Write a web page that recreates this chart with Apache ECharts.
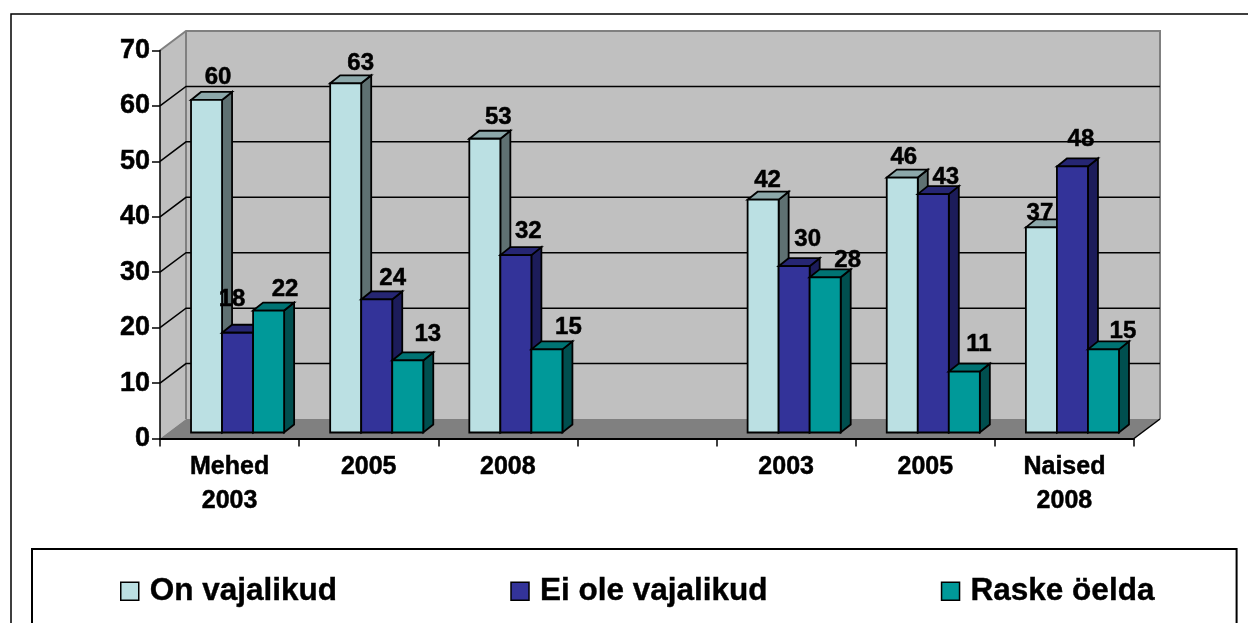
<!DOCTYPE html>
<html>
<head>
<meta charset="utf-8">
<style>html,body{margin:0;padding:0;background:#fff}#c{width:1248px;height:623px}</style>
<script src="https://cdn.jsdelivr.net/npm/echarts@6/dist/echarts.min.js"></script>
</head>
<body>
<div id="c"></div>
<script>
var categories = ['Mehed\n2003', '2005', '2008', '', '2003', '2005', 'Naised\n2008'];
var yTicks = [0, 10, 20, 30, 40, 50, 60, 70];
var onVajalikud = [60, 63, 53, null, 42, 46, 37];
var eiOleVajalikud = [18, 24, 32, null, 30, 43, 48];
var raskeOelda = [22, 13, 15, null, 28, 11, 15];
var seriesNames = ['On vajalikud', 'Ei ole vajalikud', 'Raske öelda'];

// Hand-placed data label nudges, relative to each bar's top centre
var nudgeOn = [[11.5,-24],[15,-21],[13.5,-23],null,[4.5,-21],[1.5,-22],[-1.5,-16]];
var nudgeEi = [[-5.5,-35],[16,-23],[12.5,-25],null,[13.5,-28.5],[12.5,-18.5],[8.5,-29]];
var nudgeRa = [[16.5,-23],[20,-28],[21.5,-23],null,[22.5,-18.6],[14.5,-29],[19.5,-19]];

var FONT = '"Liberation Sans", Arial, sans-serif';
var faces = [
  {front:'#BBE0E3', side:'#5F7172', top:'#8CA8AA'},
  {front:'#333399', side:'#1C1C5A', top:'#262673'},
  {front:'#009999', side:'#004F4F', top:'#007373'}
];
var WALL = {dx:26, dy:-19.5};
var DEPTH = {dx:10, dy:-8};
var FRONT = {dx:0, dy:-6};

function poly(pts, fill, stroke, lw){
  return {type:'polygon', shape:{points:pts},
    style:{fill:fill, stroke:stroke||null, lineWidth:lw||0}};
}
function wallItem(params, api){
  var cs = params.coordSys;
  var x0 = cs.x, x1 = cs.x + cs.width, y0 = cs.y, yb = cs.y + cs.height;
  var wx = WALL.dx, wy = WALL.dy;
  var kids = [];
  if (params.dataIndex === 0){
    kids.push(poly([[x0+wx,y0+wy],[x1+wx,y0+wy],[x1+wx,yb+wy],[x0+wx,yb+wy]],'#C0C0C0'));
    kids.push(poly([[x0,y0],[x0+wx,y0+wy],[x0+wx,yb+wy],[x0,yb]],'#C0C0C0'));
    kids.push(poly([[x0,yb],[x0+wx,yb+wy],[x1+wx,yb+wy],[x1,yb]],'#808080'));
    kids.push({type:'polyline',shape:{points:[[x0,y0],[x0+wx,y0+wy],[x1+wx,y0+wy],[x1+wx,yb+wy]]},
      style:{fill:null,stroke:'#808080',lineWidth:2}});
    kids.push({type:'line',shape:{x1:x0+wx,y1:y0+wy,x2:x0+wx,y2:yb+wy},
      style:{stroke:'#808080',lineWidth:2}});
    kids.push({type:'line',shape:{x1:x1,y1:yb,x2:x1+wx,y2:yb+wy},
      style:{stroke:'#000',lineWidth:1.5}});
  }
  var t = api.value(1);
  if (t > 0 && t < yTicks[yTicks.length-1]){
    var y = api.coord([0,t])[1];
    kids.push({type:'polyline',shape:{points:[[x0,y],[x0+wx,y+wy],[x1+wx,y+wy]]},
      style:{fill:null,stroke:'#000',lineWidth:1.5}});
  }
  return {type:'group',children:kids};
}
function barRenderer(s, nudges){
  return function(params, api){
    var v = api.value(1);
    if (v === null || v === undefined || isNaN(v)) return null;
    var idx = api.value(0);
    var band = api.size([1,0])[0];
    var pt = api.coord([idx, v]);
    var base = api.coord([idx, 0]);
    var w = band*31/139;
    var left = pt[0] - band/2 + w*(s+1);
    var right = left + w;
    var top = pt[1] + FRONT.dy;
    var bot = base[1] + FRONT.dy;
    var d = DEPTH, f = faces[s];
    var n = nudges[idx] || [0,-22];
    return {type:'group',children:[
      poly([[right,top],[right+d.dx,top+d.dy],[right+d.dx,bot+d.dy],[right,bot]],f.side,'#000',1.8),
      poly([[left,top],[left+d.dx,top+d.dy],[right+d.dx,top+d.dy],[right,top]],f.top,'#000',1.8),
      poly([[left,top],[right,top],[right,bot],[left,bot]],f.front,'#000',1.8),
      {type:'text',z2:50,style:{text:String(v),x:left+w/2+n[0],y:top+n[1]+1.5,
        align:'center',verticalAlign:'middle',fill:'#000',stroke:'#000',lineWidth:0.5,
        font:'bold 24px '+FONT}}
    ]};
  };
}
function series3d(s, values, nudges){
  return {
    type:'custom', name:seriesNames[s], z:4,
    coordinateSystem:'cartesian2d',
    itemStyle:{color:faces[s].front},
    encode:{x:0,y:1},
    data:values.map(function(v,i){return [i,v];}),
    renderItem:barRenderer(s,nudges),
    silent:true, animation:false
  };
}
var chart = echarts.init(document.getElementById('c'), null, {renderer:'canvas'});
chart.setOption({
  animation:false,
  backgroundColor:'#fff',
  graphic:[{type:'rect',z:0,silent:true,shape:{x:11,y:14,width:1300,height:700},
    style:{fill:'#fff',stroke:'#000',lineWidth:1.5}}],
  grid:{left:160,top:50.5,width:974,height:388,containLabel:false},
  xAxis:{type:'category',data:categories,z:5,
    axisLine:{lineStyle:{color:'#000',width:2}},
    axisTick:{show:true,alignWithLabel:false,length:8,lineStyle:{color:'#000',width:1.5}},
    axisLabel:{interval:0,color:'#000',fontFamily:FONT,fontWeight:'bold',fontSize:25,lineHeight:34,margin:12,
      textBorderColor:'#000',textBorderWidth:0.5},
    splitLine:{show:false}},
  yAxis:{type:'value',min:0,max:70,interval:10,z:5,
    axisLine:{show:true,lineStyle:{color:'#000',width:1.5}},
    axisTick:{show:true,length:8,lineStyle:{color:'#000',width:1.5}},
    axisLabel:{color:'#000',fontFamily:FONT,fontWeight:'bold',fontSize:27,margin:10,
      textBorderColor:'#000',textBorderWidth:0.5},
    splitLine:{show:false}},
  legend:{left:32,top:549,orient:'horizontal',
    padding:[26,82,50,88],borderColor:'#000',borderWidth:2,backgroundColor:'#fff',
    itemWidth:18,itemHeight:18,itemGap:173,
    selectedMode:false,
    textStyle:{color:'#000',fontFamily:FONT,fontWeight:'bold',fontSize:31.5,padding:[2,0,0,6],
      textBorderColor:'#000',textBorderWidth:0.4},
    data:seriesNames.map(function(n,i){return {name:n,icon:'rect',
      itemStyle:{color:faces[i].front,borderColor:'#000',borderWidth:1.5}};})},
  series:[
    {type:'custom',name:'wall',z:1,silent:true,animation:false,coordinateSystem:'cartesian2d',
     encode:{x:0,y:1},data:yTicks.map(function(t){return [0,t];}),renderItem:wallItem},
    series3d(0,onVajalikud,nudgeOn),
    series3d(1,eiOleVajalikud,nudgeEi),
    series3d(2,raskeOelda,nudgeRa)
  ]
});
</script>
</body>
</html>
